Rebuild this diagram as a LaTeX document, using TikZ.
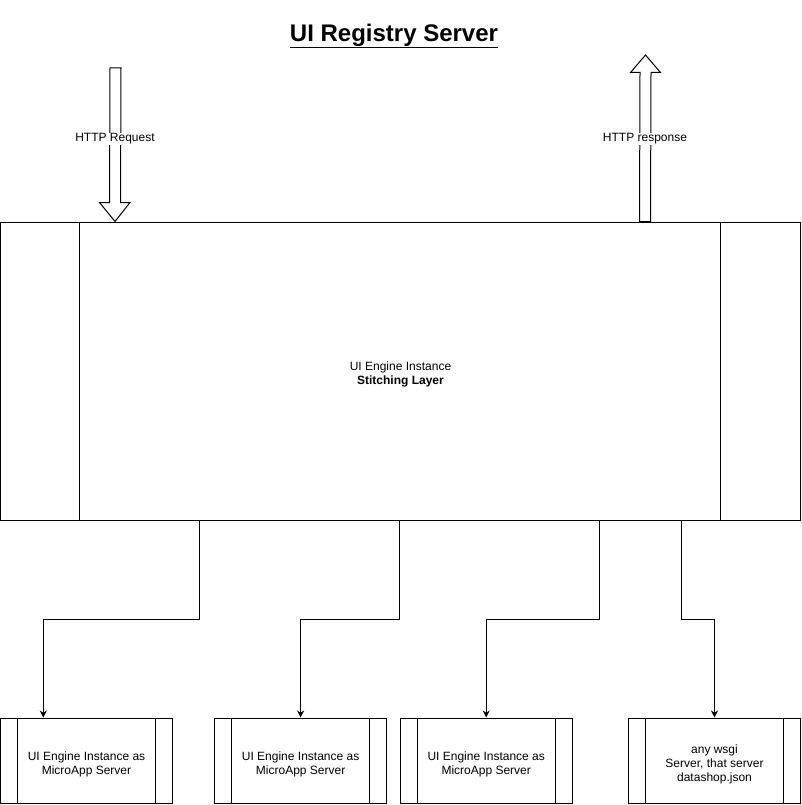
\documentclass[tikz,border=0pt]{standalone}
\usepackage{fontspec}
\setmainfont{Liberation Sans}
\usetikzlibrary{arrows.meta,calc}
\begin{document}
\begin{tikzpicture}[x=1pt,y=-1pt,
  lw/.style={line width=1pt},
  txt/.style={font=\fontsize{12}{14}\selectfont, align=center, inner sep=0pt, yshift=-3.5pt},
  bigbox/.style={draw, line width=1pt, minimum width=800pt, minimum height=298pt, inner sep=0pt},
  procbox/.style={draw, line width=1pt, minimum width=172pt, minimum height=85pt, inner sep=0pt},
  conn/.style={line width=1pt, -{Stealth[length=7pt,width=7pt]}},
  fat/.style={draw, line width=1pt, fill=white, line join=miter},
  lbl/.style={fill=white, inner sep=1pt, font=\fontsize{12}{14}\selectfont},
]
\useasboundingbox (0,0) rectangle (801,805);
\fill[white] (0,0) rectangle (801,805);
\node[font={\fontsize{24}{28}\selectfont\bfseries}] (title) at (394,36) {\underline{UI Registry Server}};

% main stitching layer box
\node[bigbox, label={[txt]center:{UI Engine Instance\\\textbf{Stitching Layer}}}] (big) at (400.5,371) {};
\draw[lw] ([xshift=79.5pt]big.north west) -- ([xshift=79.5pt]big.south west);
\draw[lw] ([xshift=-80.5pt]big.north east) -- ([xshift=-80.5pt]big.south east);

% bottom boxes
\node[procbox, label={[txt]center:{UI Engine Instance as\\MicroApp Server}}] (b1) at (86.5,760.5) {};
\node[procbox, label={[txt]center:{UI Engine Instance as\\MicroApp Server}}] (b2) at (300.6,760.5) {};
\node[procbox, label={[txt]center:{UI Engine Instance as\\MicroApp Server}}] (b3) at (486.2,760.5) {};
\node[procbox, label={[txt]center:{any wsgi\\Server, that server\\datashop.json}}] (b4) at (714.5,760.5) {};
\foreach \n in {b1,b2,b3,b4}{
  \draw[lw] ([xshift=17.5pt]\n.north west) -- ([xshift=17.5pt]\n.south west);
  \draw[lw] ([xshift=-17.5pt]\n.north east) -- ([xshift=-17.5pt]\n.south east);
}

% connectors
\draw[conn] ([xshift=199.5pt]big.south west) -- ++(0,99) -| ([xshift=-43.2pt]b1.north);
\draw[conn] ([xshift=399.5pt]big.south west) -- ++(0,99) -| (b2.north);
\draw[conn] ([xshift=599.5pt]big.south west) -- ++(0,99) -| (b3.north);
\draw[conn] ([xshift=681.8pt]big.south west) -- ++(0,99) -| (b4.north);

% HTTP request fat arrow
\coordinate (reqS) at (115.5,68);
\coordinate (reqE) at ([xshift=115pt]big.north west);
\draw[fat] ($(reqS)+(-5.5,0)$) -- ($(reqE)+(-5.5,-19)$) -- ($(reqE)+(-15.5,-19)$) -- (reqE)
  -- ($(reqE)+(15,-19)$) -- ($(reqE)+(5.5,-19)$) -- ($(reqS)+(5.5,0)$) -- cycle;
\node[lbl] (reqL) at (115,139) {HTTP Request};

% HTTP response fat arrow
\coordinate (resS) at ([xshift=645pt]big.north west);
\coordinate (resE) at (645.5,55);
\draw[fat] ($(resS)+(-5.5,0)$) -- ($(resE)+(-5.5,17.5)$) -- ($(resE)+(-15,17.5)$) -- (resE)
  -- ($(resE)+(15,17.5)$) -- ($(resE)+(5.5,17.5)$) -- ($(resS)+(5.5,0)$) -- cycle;
\node[lbl] (resL) at (645,139) {HTTP response};
\end{tikzpicture}
\end{document}
